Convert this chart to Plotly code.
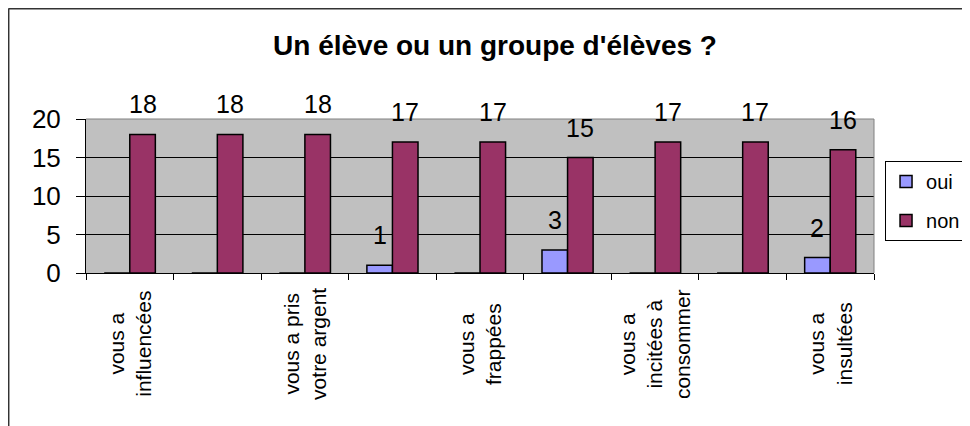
import plotly.graph_objects as go

# Données
categories = ["vous a<br>influencées", "", "vous a pris<br>votre argent", "",
              "vous a<br>frappées", "", "vous a<br>incitées à<br>consommer", "",
              "vous a<br>insultées"]
oui = [0, 0, 0, 1, 0, 3, 0, 0, 2]
non = [18, 18, 18, 17, 17, 15, 17, 17, 16]
y_ticks = [0, 5, 10, 15, 20]

FONT = "Liberation Sans, Arial, sans-serif"
x = list(range(len(categories)))
w = 0.292

fig = go.Figure()
fig.add_trace(go.Bar(x=x, y=oui, name="oui", width=w, offset=-w,
                     marker=dict(color="#9999FF", line=dict(color="black", width=1.5)),
                     legendgroup="a"))
fig.add_trace(go.Bar(x=x, y=non, name="non", width=w, offset=0,
                     marker=dict(color="#993366", line=dict(color="black", width=1.5)),
                     legendgroup="b"))

# étiquettes de valeurs
for i, v in enumerate(oui):
    if v:
        fig.add_annotation(x=i - w / 2, y=v, text=str(v), showarrow=False,
                           yanchor="bottom", yshift=14, font=dict(size=25, color="black"))
for i, v in enumerate(non):
    fig.add_annotation(x=i + w / 2, y=v, text=str(v), showarrow=False,
                       yanchor="bottom", yshift=14, font=dict(size=25, color="black"))

# libellés des catégories (pivotés)
for i, c in enumerate(categories):
    if c:
        fig.add_annotation(x=i, y=-0.461, yref="paper", text=c, showarrow=False,
                           textangle=-90, xanchor="center", yanchor="middle",
                           font=dict(size=21, color="black"))

# bord du graphique + cadre extérieur
fig.add_shape(type="line", xref="paper", yref="paper", x0=0, x1=1, y0=1, y1=1,
              line=dict(color="#808080", width=1), layer="above")
fig.add_shape(type="line", xref="paper", yref="paper", x0=1, x1=1, y0=0, y1=1,
              line=dict(color="#808080", width=1), layer="above")
fig.add_shape(type="line", xref="paper", yref="paper", x0=-0.0984, x1=1.2,
              y0=1.7175, y1=1.7175, line=dict(color="#333333", width=2))
fig.add_shape(type="line", xref="paper", yref="paper", x0=-0.0984, x1=-0.0984,
              y0=1.7175, y1=-1.1, line=dict(color="#333333", width=2))

fig.update_layout(
    width=962, height=418,
    margin=dict(l=78, r=96, t=111, b=153, autoexpand=False),
    paper_bgcolor="white", plot_bgcolor="#C0C0C0",
    font=dict(family=FONT, color="black"),
    title=dict(text="<b>Un élève ou un groupe d'élèves ?</b>", x=0.519, xref="paper",
               xanchor="center", y=0.9115, yanchor="middle", font=dict(size=28)),
    barmode="group",
    showlegend=True,
    legend=dict(x=1.014, y=0.727, xanchor="left", yanchor="top",
                bgcolor="white", bordercolor="black", borderwidth=1,
                font=dict(size=20), traceorder="grouped", tracegroupgap=10),
    xaxis=dict(range=[-0.5, len(categories) - 0.5], showgrid=False, zeroline=False,
               tickvals=[i - 0.5 for i in range(len(categories) + 1)],
               showticklabels=False, ticks="outside", ticklen=6, tickcolor="black",
               showline=True, linecolor="black", linewidth=1),
    yaxis=dict(range=[0, 20], tickvals=y_ticks, showgrid=True, gridcolor="black",
               gridwidth=1, zeroline=False, ticks="outside", ticklen=9,
               tickcolor="black", showline=True, linecolor="black", linewidth=1,
               tickfont=dict(size=26), ticklabelstandoff=10),
)

fig.write_html("out.html")
